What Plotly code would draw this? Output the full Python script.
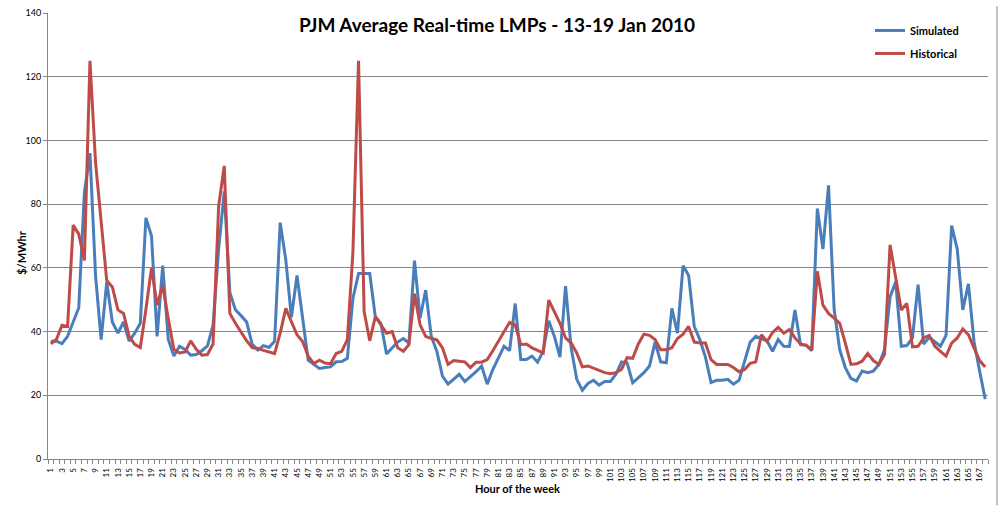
import plotly.graph_objects as go

hours = list(range(1, 169))

simulated = [
    37, 37, 36.2, 38.5, 43, 47.5, 83.5, 96, 57.5, 37.5,
    55.5, 43, 39.5, 43, 37, 39.5, 42.6, 75.7, 70, 38.5,
    60.7, 37.5, 32.3, 35.4, 34.4, 32.6, 32.8, 34, 35.5, 42,
    66, 84, 52.3, 46.8, 45, 43, 36, 34.2, 35.6, 35,
    37, 74.2, 62.5, 44.5, 57.6, 44, 31, 29.7, 28.4, 28.7,
    28.9, 30.5, 30.6, 31.6, 50.5, 58.2, 58.2, 58.2, 44.7, 42.6,
    33, 34.9, 36.7, 37.8, 36.4, 62.3, 44.2, 53, 38.5, 33.8,
    26, 23.5, 25, 26.6, 24.3, 25.8, 27.4, 29.2, 23.5, 28.1,
    31.8, 35.4, 34, 48.8, 31.2, 31.2, 32.3, 30.4, 33.8, 43.4,
    38.5, 32, 54.3, 34.9, 25, 21.6, 23.7, 24.7, 23.2, 24.3,
    24.3, 26.6, 30.5, 30.2, 23.9, 25.5, 27.1, 29.2, 36.7, 30.5,
    30.2, 47.3, 39.5, 60.7, 57.6, 41.6, 37.5, 32, 24, 24.7,
    24.7, 25, 23.5, 24.7, 30.7, 36.7, 38.5, 37.8, 37.1, 33.8,
    37.5, 35.4, 35.3, 46.8, 35.9, 35.7, 34, 78.6, 65.9, 85.9,
    47, 34.3, 28.7, 25.3, 24.5, 27.6, 27.1, 27.6, 29.7, 34.3,
    50.9, 55.6, 35.4, 35.6, 38, 54.7, 36.1, 38.2, 36.7, 35.4,
    38.8, 73.3, 65.9, 46.8, 55, 36.9, 27.6, 18.8,
]

historical = [
    36.2, 37.5, 42, 41.6, 73.4, 70.6, 62.3, 125, 93, 75,
    56, 54, 46.8, 45.7, 38.5, 36, 35, 47, 60, 48.3,
    54.5, 44, 34.4, 33.3, 33.6, 37.1, 34.4, 32.6, 32.8, 36.1,
    79.4, 92, 45.7, 42.6, 40, 37.1, 35, 34.7, 34.1, 33.5,
    33.1, 39.5, 47.3, 43.1, 39, 36.9, 32.3, 30, 31, 30.1,
    29.9, 33.1, 33.8, 37.5, 65, 125, 46.3, 37.1, 44.7, 42.1,
    39.5, 40, 34.9, 33.8, 35.9, 51.9, 42.1, 38.5, 37.8, 37.4,
    34.9, 29.7, 30.9, 30.7, 30.5, 28.7, 30.4, 30.4, 31.2, 34,
    37.1, 40, 42.9, 42.1, 35.9, 36.1, 34.9, 34.1, 33.3, 49.9,
    46.3, 42.6, 38, 36.4, 33.3, 28.9, 29.2, 28.4, 27.8, 27.1,
    26.8, 27.1, 28.1, 31.8, 31.6, 36.1, 39.2, 38.8, 37.5, 34.3,
    34.3, 34.9, 37.8, 39.2, 41.6, 36.7, 36.4, 36.4, 31.2, 29.7,
    29.7, 29.7, 28.7, 27.4, 28.1, 30, 30.5, 39, 36.9, 39.7,
    41.3, 39.5, 40.6, 38, 36.1, 35.7, 34.3, 58.9, 48.3, 45.7,
    44.2, 42.6, 36.4, 29.7, 29.9, 30.7, 33.1, 30.9, 29.7, 32.8,
    67.2, 57.1, 46.8, 48.8, 35.2, 35.4, 38, 38.8, 35.4, 33.8,
    32.3, 36.4, 38, 40.8, 39, 34.9, 30.9, 28.9,
]

tick_hours = list(range(1, 169, 2))
tick_labels = [str(h) for h in tick_hours]
y_ticks = list(range(0, 141, 20))

title_text = "PJM Average Real-time LMPs - 13-19 Jan 2010"
x_title = "Hour of the week"
y_title = "$/MWhr"

assert len(simulated) == 168 and len(historical) == 168

BLUE = "#4A7EBB"
RED = "#BE4B48"
GRID = "#868686"
FONT = "Lato"

fig = go.Figure()
fig.add_trace(go.Scatter(x=hours, y=simulated, mode="lines", name="<b>Simulated</b>",
                         legendgroup="sim",
                         line=dict(color=BLUE, width=3)))
fig.add_trace(go.Scatter(x=hours, y=historical, mode="lines", name="<b>Historical</b>",
                         legendgroup="hist",
                         line=dict(color=RED, width=3)))

W, H = 999, 506
L, R, T, B = 48, 11, 7, 47
PW, PH = W - L - R, H - T - B

fig.update_layout(
    width=W, height=H,
    margin=dict(l=L, r=R, t=T, b=B),
    paper_bgcolor="white", plot_bgcolor="white",
    font=dict(family=FONT, color="#000000"),
    showlegend=True,
    legend=dict(x=(870 - L) / PW, y=1 - (10 - T) / PH, xanchor="left", yanchor="top",
                bgcolor="rgba(255,255,255,0)", itemwidth=30,
                font=dict(family=FONT, size=11, color="#000000"),
                tracegroupgap=4),
    xaxis=dict(
        range=[0.5, 168.5], tickmode="array", tickvals=tick_hours, ticktext=tick_labels,
        tickangle=-90, tickfont=dict(family=FONT, size=8, color="#000000"),
        ticks="outside", ticklen=5, tickcolor="rgba(0,0,0,0)",
        showgrid=False, zeroline=False,
        showline=True, linecolor=GRID, linewidth=1,
        minor=dict(tickmode="linear", tick0=0.5, dtick=1, ticks="outside",
                   ticklen=4, tickcolor=GRID, tickwidth=1, showgrid=False),
    ),
    yaxis=dict(
        range=[0, 140], tickmode="array", tickvals=y_ticks,
        tickfont=dict(family=FONT, size=9, color="#000000"),
        ticks="outside", ticklen=4, tickcolor=GRID,
        showgrid=True, gridcolor=GRID, gridwidth=1, zeroline=False,
        showline=True, linecolor=GRID, linewidth=1,
    ),
    annotations=[
        dict(text="<b>" + title_text + "</b>", xref="paper", yref="paper",
             x=(497 - L) / PW, y=1 - (19 - T) / PH,
             xanchor="center", yanchor="middle", showarrow=False,
             font=dict(family=FONT, size=19, color="#000000"),
             bgcolor="white", borderpad=4),
        dict(text="<b>" + x_title + "</b>", xref="paper", yref="paper",
             x=(517 - L) / PW, y=-(489 - (H - B)) / PH,
             xanchor="center", yanchor="middle", showarrow=False,
             font=dict(family=FONT, size=11, color="#000000")),
        dict(text="<b>" + y_title + "</b>", xref="paper", yref="paper",
             x=-(L - 22) / PW, y=1 - (250 - T) / PH,
             xanchor="center", yanchor="middle", showarrow=False, textangle=-90,
             font=dict(family=FONT, size=11, color="#000000")),
    ],
    shapes=[
        dict(type="line", xref="paper", yref="paper",
             x0=(997 - L) / PW, x1=(997 - L) / PW,
             y0=-B / PH, y1=1 + T / PH,
             line=dict(color=GRID, width=1)),
    ],
)

fig.write_html("out.html")
